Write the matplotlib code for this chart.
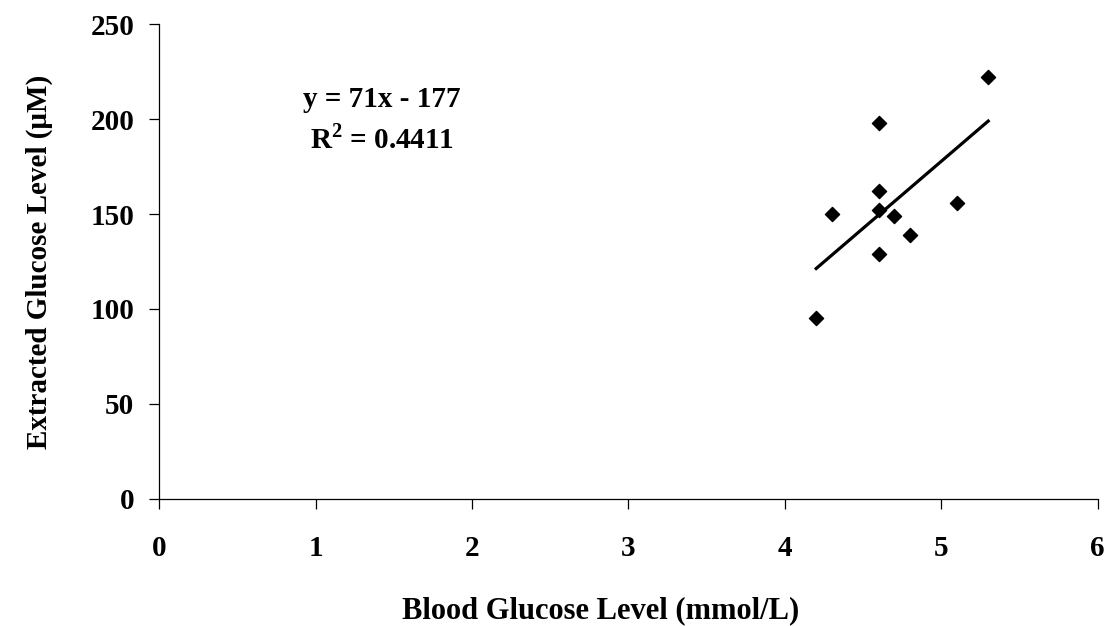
import numpy as np
import matplotlib
matplotlib.use("Agg")
import matplotlib.pyplot as plt

# blood glucose (mmol/L) vs extracted glucose (uM)
blood = [4.2, 4.3, 4.6, 4.6, 4.6, 4.6, 4.7, 4.8, 5.1, 5.3]
extracted = [95, 150, 129, 152, 162, 198, 149, 139, 156, 222]
x_ticks = [0, 1, 2, 3, 4, 5, 6]
y_ticks = [0, 50, 100, 150, 200, 250]
eq_label = "y = 71x - 177"
r2_label = "R$^\\mathbf{2}$ = 0.4411"

plt.rcParams['font.family'] = ['Liberation Serif', 'DejaVu Serif']
plt.rcParams['font.weight'] = 'bold'
plt.rcParams['mathtext.fontset'] = 'custom'
plt.rcParams['mathtext.bf'] = 'Liberation Serif:bold'
plt.rcParams['mathtext.rm'] = 'Liberation Serif:bold'

fig = plt.figure(figsize=(11.07, 6.26), dpi=100)
ax = fig.add_axes([0.1439, 0.2034, 0.8477, 0.7578])

ax.scatter(blood, extracted, marker='D', s=52, color='black', zorder=3)

# linear trendline over the data range
slope, intercept = np.polyfit(blood, extracted, 1)
xs = np.array([min(blood), max(blood)])
ax.plot(xs, slope * xs + intercept, color='black', lw=2.3)

ax.set_xlim(0, 6)
ax.set_ylim(0, 250)
ax.set_xticks(x_ticks)
ax.set_yticks(y_ticks)
ax.spines['top'].set_visible(False)
ax.spines['right'].set_visible(False)
for s in ['left', 'bottom']:
    ax.spines[s].set_linewidth(0.9)
ax.tick_params(axis='both', direction='out', length=7, width=0.9, labelsize=21)
ax.tick_params(axis='x', pad=19)
ax.tick_params(axis='y', pad=11)
for lab in ax.get_xticklabels() + ax.get_yticklabels():
    lab.set_fontweight('bold')

ax.set_xlabel("Blood Glucose Level (mmol/L)", fontsize=22, fontweight='bold')
ax.set_ylabel("Extracted Glucose Level (\u03bcM)", fontsize=21, fontweight='bold')
ax.xaxis.set_label_coords(0.47, -0.205)
ax.yaxis.set_label_coords(-0.113, 0.5)

ax.text(0.237, 0.826, eq_label, transform=ax.transAxes, ha='center', va='baseline',
        fontsize=21, fontweight='bold')
ax.text(0.237, 0.739, r2_label, transform=ax.transAxes, ha='center', va='baseline',
        fontsize=21, fontweight='bold')

fig.savefig("out.png", dpi=100)
